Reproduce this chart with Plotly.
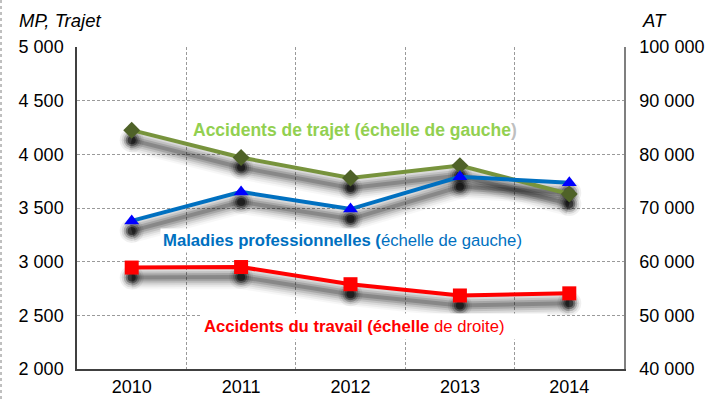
import plotly.graph_objects as go

# ---- data ----
years = ["2010", "2011", "2012", "2013", "2014"]
trajet = [4225, 3970, 3780, 3895, 3630]        # left scale
maladies = [3380, 3650, 3490, 3790, 3735]      # left scale
accidents_travail = [58900, 59000, 55800, 53700, 54100]  # right scale

left_tickvals = [2000, 2500, 3000, 3500, 4000, 4500, 5000]
left_ticktext = ["2 000", "2 500", "3 000", "3 500", "4 000", "4 500", "5 000"]
right_tickvals = [40000, 50000, 60000, 70000, 80000, 90000, 100000]
right_ticktext = ["40 000", "50 000", "60 000", "70 000", "80 000", "90 000", "100 000"]

# ---- layout geometry ----
W, H = 710, 401
ML, MR, MT, MB = 77, 86, 47, 32
PW, PH = W - ML - MR, H - MT - MB
LEFT_RANGE = [2000, 5000]
RIGHT_RANGE = [40000, 100000]
SHADOW_PX = 10
lshift = SHADOW_PX * (LEFT_RANGE[1] - LEFT_RANGE[0]) / PH
rshift = SHADOW_PX * (RIGHT_RANGE[1] - RIGHT_RANGE[0]) / PH

FONT = "Liberation Sans, Arial, sans-serif"
GRID = "#9A9A9A"

fig = go.Figure()

def add_shadow(values, yaxis):
    for w, a in [(24, 0.03), (20, 0.05), (16, 0.07), (12, 0.10), (8, 0.14), (4, 0.18)]:
        fig.add_trace(go.Scatter(x=years, y=values, yaxis=yaxis, mode="lines",
                                 line=dict(color=f"rgba(0,0,0,{a})", width=w),
                                 hoverinfo="skip", showlegend=False))
    for s, a in [(24, 0.06), (20, 0.10), (16, 0.2), (12, 0.35), (8, 0.5)]:
        fig.add_trace(go.Scatter(x=years, y=values, yaxis=yaxis, mode="markers",
                                 marker=dict(color=f"rgba(0,0,0,{a})", size=s, symbol="circle",
                                             line=dict(width=0)),
                                 hoverinfo="skip", showlegend=False))

# shadows (base axes, shifted ranges)
add_shadow(trajet, "y")
add_shadow(maladies, "y")
add_shadow(accidents_travail, "y2")

# main series
fig.add_trace(go.Scatter(x=years, y=trajet, yaxis="y3", mode="lines+markers",
                         name="Accidents de trajet",
                         line=dict(color="#77933C", width=4),
                         marker=dict(symbol="diamond", size=13, color="#4F6228",
                                     line=dict(width=0)),
                         showlegend=False))
fig.add_trace(go.Scatter(x=years, y=maladies, yaxis="y3", mode="lines+markers",
                         name="Maladies professionnelles",
                         line=dict(color="#0070C0", width=4),
                         marker=dict(symbol="triangle-up", size=13, color="#0000FF",
                                     line=dict(width=0)),
                         showlegend=False))
fig.add_trace(go.Scatter(x=years, y=accidents_travail, yaxis="y4", mode="lines+markers",
                         name="Accidents du travail",
                         line=dict(color="#FF0000", width=4),
                         marker=dict(symbol="square", size=14, color="#FF0000",
                                     line=dict(width=0)),
                         showlegend=False))

tickfont = dict(family=FONT, size=18, color="#000000")

fig.update_layout(
    width=W, height=H,
    margin=dict(l=ML, r=MR, t=MT, b=MB, autoexpand=False),
    paper_bgcolor="white", plot_bgcolor="white",
    showlegend=False,
    xaxis=dict(type="category", range=[-0.5, 4.5], tickson="boundaries",
               showgrid=True, gridcolor=GRID, griddash="3px,2px", gridwidth=1,
               showline=True, linecolor="#404040", linewidth=1.5, automargin=False,
               ticks="", tickfont=tickfont, ticklabelstandoff=1, fixedrange=True),
    yaxis=dict(range=[LEFT_RANGE[0] + lshift, LEFT_RANGE[1] + lshift], automargin=False,
               visible=False, showgrid=False, fixedrange=True),
    yaxis2=dict(range=[RIGHT_RANGE[0] + rshift, RIGHT_RANGE[1] + rshift], automargin=False,
                overlaying="y", side="right", visible=False, showgrid=False,
                fixedrange=True),
    yaxis3=dict(range=LEFT_RANGE, overlaying="y", side="left", automargin=False,
                tickvals=left_tickvals, ticktext=left_ticktext,
                showgrid=True, gridcolor=GRID, griddash="3px,2px", gridwidth=1,
                showline=True, linecolor="#404040", linewidth=1.5,
                ticks="", tickfont=tickfont, ticklabelstandoff=8,
                zeroline=False, fixedrange=True),
    yaxis4=dict(range=RIGHT_RANGE, overlaying="y", side="right", automargin=False,
                tickvals=right_tickvals, ticktext=right_ticktext,
                showgrid=False,
                showline=True, linecolor="#7F7F7F", linewidth=1.5,
                ticks="", tickfont=tickfont, ticklabelstandoff=10,
                zeroline=False, fixedrange=True),
)

def px_x(p):
    return (p - ML) / PW

def px_y(p):
    return 1 - (p - MT) / PH

# axis titles
fig.add_annotation(text="<i>MP, Trajet</i>", xref="paper", yref="paper",
                   x=px_x(17), y=px_y(20), xanchor="left", yanchor="middle",
                   showarrow=False, font=dict(family=FONT, size=18.5, color="#000000"))
fig.add_annotation(text="<i>AT</i>", xref="paper", yref="paper",
                   x=px_x(640), y=px_y(20), xanchor="left", yanchor="middle",
                   showarrow=False, font=dict(family=FONT, size=18.5, color="#000000"))

# series labels
fig.add_annotation(
    text="<b>Accidents de trajet (échelle de gauche</b><span style='color:#BFBFBF'><b>)</b></span>",
    xref="paper", yref="paper", x=px_x(191), y=px_y(130), xanchor="left", yanchor="middle",
    showarrow=False, bgcolor="white", borderpad=1,
    font=dict(family=FONT, size=17.5, color="#92D050"))
fig.add_annotation(
    text="<b>Maladies professionnelles (</b>échelle de gauche)",
    xref="paper", yref="paper", x=px_x(160), y=px_y(240), xanchor="left", yanchor="middle",
    showarrow=False, bgcolor="white", borderpad=2,
    font=dict(family=FONT, size=16.7, color="#0070C0"))
fig.add_annotation(
    text="<b>Accidents du travail (échelle</b> de droite)",
    xref="paper", yref="paper", x=px_x(200), y=px_y(326), xanchor="left", yanchor="middle",
    width=340, align="left",
    showarrow=False, bgcolor="white", borderpad=3,
    font=dict(family=FONT, size=16.7, color="#FF0000"))

# dotted frame edge on the left
fig.add_shape(type="line", xref="paper", yref="paper",
              x0=px_x(1), x1=px_x(1), y0=px_y(0), y1=px_y(H),
              line=dict(color="#808080", width=1, dash="dot"))

fig.write_html("out.html", config={"displayModeBar": False},
               post_script="document.body.style.margin='0';document.body.style.overflow='hidden';")
